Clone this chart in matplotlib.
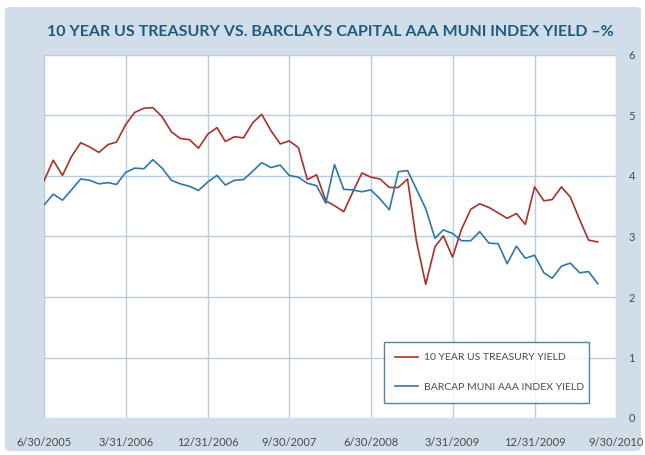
import matplotlib
matplotlib.use("Agg")
import matplotlib.pyplot as plt
import numpy as np
import pandas as pd
from matplotlib.patches import FancyBboxPatch
from matplotlib.lines import Line2D

title = "10 YEAR US TREASURY VS. BARCLAYS CAPITAL AAA MUNI INDEX YIELD \u2013%"
start_date = "2005-06-30"
treasury = [3.92, 4.26, 4.01, 4.32, 4.55, 4.48, 4.39, 4.52, 4.56, 4.85, 5.05, 5.12,
            5.13, 4.98, 4.73, 4.62, 4.60, 4.46, 4.69, 4.80, 4.57, 4.65, 4.63, 4.88,
            5.02, 4.75, 4.53, 4.58, 4.47, 3.94, 4.02, 3.59, 3.51, 3.41, 3.73, 4.05,
            3.98, 3.95, 3.81, 3.81, 3.95, 2.92, 2.21, 2.83, 3.01, 2.66, 3.12, 3.45,
            3.54, 3.48, 3.39, 3.30, 3.38, 3.20, 3.82, 3.59, 3.61, 3.82, 3.65, 3.28,
            2.94, 2.91]
muni = [3.52, 3.70, 3.60, 3.77, 3.95, 3.93, 3.87, 3.89, 3.86, 4.06, 4.13, 4.12,
        4.27, 4.13, 3.93, 3.87, 3.83, 3.76, 3.90, 4.01, 3.85, 3.93, 3.94, 4.08,
        4.22, 4.14, 4.18, 4.01, 3.98, 3.88, 3.84, 3.55, 4.19, 3.78, 3.77, 3.74,
        3.77, 3.62, 3.44, 4.07, 4.09, 3.78, 3.46, 2.97, 3.11, 3.05, 2.93, 2.93,
        3.08, 2.89, 2.88, 2.55, 2.84, 2.64, 2.69, 2.40, 2.31, 2.51, 2.56, 2.40,
        2.42, 2.22]
tick_labels = ["6/30/2005", "3/31/2006", "12/31/2006", "9/30/2007", "6/30/2008",
               "3/31/2009", "12/31/2009", "9/30/2010"]
y_ticks = [0, 1, 2, 3, 4, 5, 6]
series_names = ["10 YEAR US TREASURY YIELD", "BARCAP MUNI AAA INDEX YIELD"]

dates = pd.date_range(start_date, periods=len(treasury), freq="ME")
tick_dates = pd.to_datetime(tick_labels, format="%m/%d/%Y")

RED = "#a8322a"
BLUE = "#2f77aa"
PANEL = "#d1dee9"
GRID = "#b9cde0"
TITLE_C = "#1e5b80"
TEXT_C = "#4a4a4a"

plt.rcParams["font.family"] = ["Lato", "DejaVu Sans"]

fig = plt.figure(figsize=(6.45, 4.55), dpi=100)
fig.patch.set_facecolor("white")
W, H = 645, 455
panel = FancyBboxPatch((5 / W, 4 / H), 636 / W, 444 / H,
                       boxstyle="round,pad=0,rounding_size=0.008",
                       transform=fig.transFigure, facecolor=PANEL, edgecolor="none", zorder=-10)
fig.patches.append(panel)

fig.text(330 / W, 1 - 32 / H, title, ha="center", va="center", fontsize=11.5,
         fontweight="bold", color=TITLE_C)

ax = fig.add_axes([44 / W, 37 / H, 572 / W, 363 / H])
ax.set_zorder(5)
ax.set_facecolor("white")
ax.plot(dates, treasury, color=RED, lw=1.2, label=series_names[0], zorder=3)
ax.plot(dates, muni, color=BLUE, lw=1.2, label=series_names[1], zorder=3)

ax.set_xlim(tick_dates[0], tick_dates[-1])
ax.set_ylim(0, 6)
ax.set_xticks(tick_dates)
ax.set_xticklabels(tick_labels)
ax.set_yticks(y_ticks)
ax.yaxis.tick_right()
ax.tick_params(axis="both", length=0, colors=TEXT_C, labelsize=8)
ax.tick_params(axis="x", pad=14)
ax.tick_params(axis="y", pad=9)
ax.grid(True, color=GRID, lw=1.0, zorder=1)
for s in ax.spines.values():
    s.set_visible(False)

handles = [Line2D([], [], color=RED, lw=1.2), Line2D([], [], color=BLUE, lw=1.2)]
leg = ax.legend(handles, series_names, loc="lower left",
                bbox_to_anchor=((384 - 44) / 572, (418 - 403) / 363, 205 / 572, 60 / 363),
                mode="expand", borderaxespad=0, fontsize=7.5, frameon=True, fancybox=False,
                handlelength=2.2, handletextpad=0.5, borderpad=1.1, labelspacing=1.9,
                labelcolor=TEXT_C)
leg.get_frame().set_edgecolor("#2b6585")
leg.get_frame().set_linewidth(1.0)
leg.get_frame().set_facecolor("white")

fig.savefig("out.png", dpi=100)
